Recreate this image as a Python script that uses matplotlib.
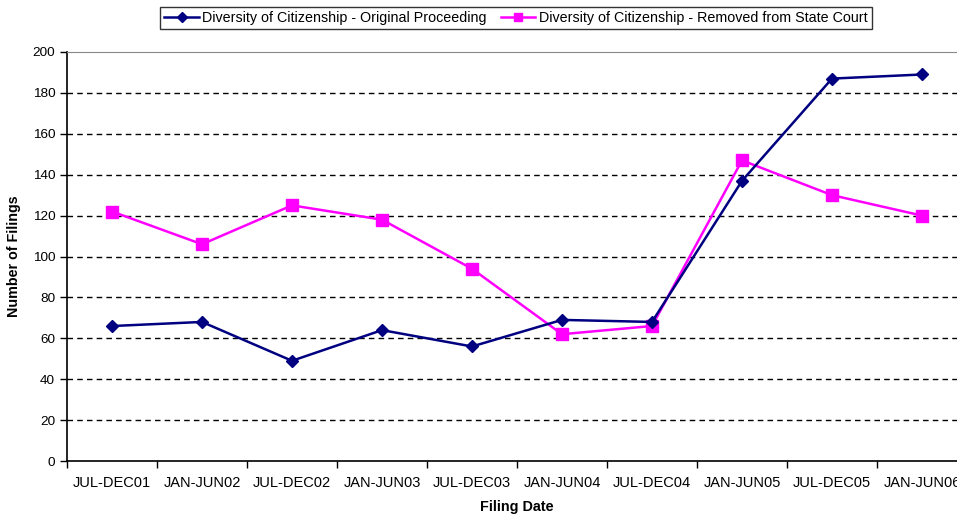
import matplotlib
matplotlib.use("Agg")
import matplotlib.pyplot as plt

categories = ["JUL-DEC01", "JAN-JUN02", "JUL-DEC02", "JAN-JUN03", "JUL-DEC03",
              "JAN-JUN04", "JUL-DEC04", "JAN-JUN05", "JUL-DEC05", "JAN-JUN06"]
original = [66, 68, 49, 64, 56, 69, 68, 137, 187, 189]
removed = [122, 106, 125, 118, 94, 62, 66, 147, 130, 120]
series_names = ["Diversity of Citizenship - Original Proceeding",
                "Diversity of Citizenship - Removed from State Court"]

plt.rcParams['font.family'] = ['Liberation Sans', 'DejaVu Sans']

W, H = 957, 517
fig = plt.figure(figsize=(W / 100, H / 100), dpi=100)
ax = fig.add_axes([67 / W, (H - 461) / H, 900 / W, 409 / H])

x = list(range(len(categories)))
l1, = ax.plot(x, original, color='#000080', lw=1.8, marker='D', ms=6,
              label=series_names[0], zorder=4)
l2, = ax.plot(x, removed, color='#FF00FF', lw=1.8, marker='s', ms=8,
              label=series_names[1], zorder=3)

ax.set_xlim(-0.5, len(categories) - 0.5)
ax.set_ylim(0, 200)
ax.set_yticks(range(0, 201, 20))
ax.set_xticks([i - 0.5 for i in range(len(categories) + 1)])
ax.set_xticklabels([])
ax.set_xticks(x, minor=True)
ax.set_xticklabels(categories, minor=True)
ax.tick_params(axis='x', which='minor', length=0, pad=11, labelsize=10.5)
ax.tick_params(axis='x', which='major', length=5, direction='out', width=1)
ax.tick_params(axis='y', length=5, direction='out', width=1, labelsize=9.7)

for v in range(20, 200, 20):
    ax.axhline(v, color='black', lw=1, ls=(0, (4, 3)), zorder=1)

ax.spines['right'].set_visible(False)
ax.spines['top'].set_color('#888888')
ax.spines['left'].set_linewidth(1.2)
ax.spines['bottom'].set_linewidth(1.2)

ax.set_xlabel("Filing Date", fontsize=10.4, fontweight='bold', labelpad=7)
ax.set_ylabel("Number of Filings", fontsize=10.3, fontweight='bold', labelpad=8)

leg = fig.legend(handles=[l1, l2], loc='center', bbox_to_anchor=(516 / W, 1 - 18 / H),
                 ncol=2, fontsize=10.3, frameon=True, fancybox=False, edgecolor='black',
                 handlelength=2.4, columnspacing=1.0, handletextpad=0.25,
                 borderpad=0.3, borderaxespad=0, markerscale=0.8)
leg.get_frame().set_linewidth(1)

fig.savefig("out.png", dpi=100)
